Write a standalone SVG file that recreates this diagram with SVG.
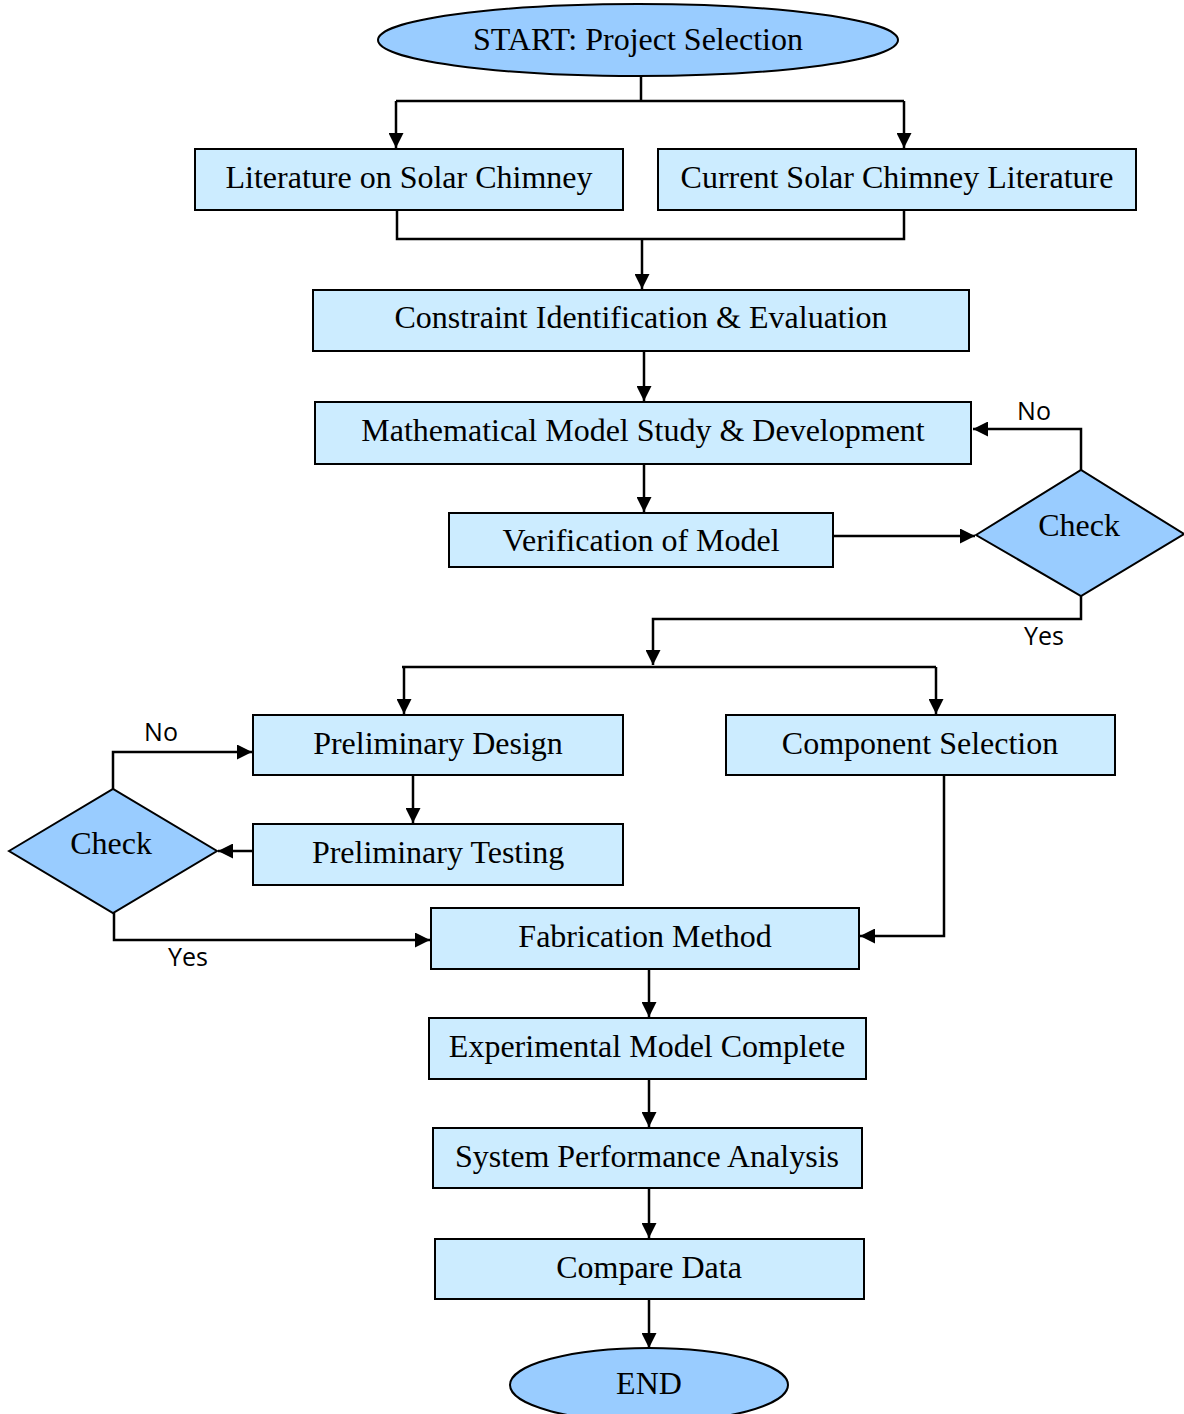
<svg xmlns="http://www.w3.org/2000/svg" width="1184" height="1414" viewBox="0 0 1184 1414">
<style>
.box{fill:#CCECFF;stroke:#000;stroke-width:2}
.term{fill:#99CCFF;stroke:#000;stroke-width:2}
.t{font-family:"Liberation Serif","Times New Roman",serif;font-size:32px;fill:#000;text-anchor:middle;dominant-baseline:central}
.lbl{font-family:"Open Sans","Liberation Sans",sans-serif;font-size:25px;fill:#000;text-anchor:middle}
.c{fill:none;stroke:#000;stroke-width:2.5}
.ca{fill:none;stroke:#000;stroke-width:2.5;marker-end:url(#ah)}
</style>
<defs>
<marker id="ah" viewBox="0 0 10 10" refX="10" refY="5" markerWidth="6" markerHeight="6" markerUnits="strokeWidth" orient="auto">
<path d="M0,0 L10,5 L0,10 z" fill="#000"/>
</marker>
</defs>
<rect width="1184" height="1414" fill="#fff"/>
<g id="start"><ellipse class="term" cx="638" cy="40" rx="260" ry="36"/><text class="t" x="638" y="39">START: Project Selection</text></g>
<g id="lit1"><rect class="box" x="195" y="149" width="428" height="61"/><text class="t" x="409" y="177">Literature on Solar Chimney</text></g>
<g id="lit2"><rect class="box" x="658" y="149" width="478" height="61"/><text class="t" x="897" y="177">Current Solar Chimney Literature</text></g>
<g id="constraint"><rect class="box" x="313" y="290" width="656" height="61"/><text class="t" x="641" y="317">Constraint Identification &amp; Evaluation</text></g>
<g id="math"><rect class="box" x="315" y="402" width="656" height="62"/><text class="t" x="643" y="430">Mathematical Model Study &amp; Development</text></g>
<g id="verify"><rect class="box" x="449" y="513" width="384" height="54"/><text class="t" x="641" y="540">Verification of Model</text></g>
<g id="check1"><polygon class="term" points="976,535 1081,470 1184,534 1081,596"/><text class="t" x="1079" y="525">Check</text></g>
<g id="prelimDesign"><rect class="box" x="253" y="715" width="370" height="60"/><text class="t" x="438" y="743">Preliminary Design</text></g>
<g id="component"><rect class="box" x="726" y="715" width="389" height="60"/><text class="t" x="920" y="743">Component Selection</text></g>
<g id="prelimTest"><rect class="box" x="253" y="824" width="370" height="61"/><text class="t" x="438" y="852">Preliminary Testing</text></g>
<g id="check2"><polygon class="term" points="9,851 113,789 217,851 113,913"/><text class="t" x="111" y="843">Check</text></g>
<g id="fabrication"><rect class="box" x="431" y="908" width="428" height="61"/><text class="t" x="645" y="936">Fabrication Method</text></g>
<g id="experimental"><rect class="box" x="429" y="1018" width="437" height="61"/><text class="t" x="647" y="1046">Experimental Model Complete</text></g>
<g id="performance"><rect class="box" x="433" y="1128" width="429" height="60"/><text class="t" x="647" y="1156">System Performance Analysis</text></g>
<g id="compare"><rect class="box" x="435" y="1239" width="429" height="60"/><text class="t" x="649" y="1267">Compare Data</text></g>
<g id="end"><ellipse class="term" cx="649" cy="1385" rx="139" ry="37"/><text class="t" x="649" y="1383">END</text></g>
<g id="connectors">
<polyline class="c" points="641,76 641,101"/>
<polyline class="ca" points="396,101 396,148"/>
<polyline class="c" points="396,101 904,101"/>
<polyline class="ca" points="904,101 904,148"/>
<polyline class="c" points="397,210 397,239 904,239 904,210"/>
<polyline class="ca" points="642,239 642,289"/>
<polyline class="ca" points="644,351 644,401"/>
<polyline class="ca" points="644,464 644,512"/>
<polyline class="ca" points="833,536 975,536"/>
<polyline class="ca" points="1081,470 1081,429 973,429"/>
<polyline class="ca" points="1081,596 1081,619 653,619 653,665"/>
<polyline class="c" points="402,667 936,667"/>
<polyline class="ca" points="404,667 404,714"/>
<polyline class="ca" points="936,667 936,714"/>
<polyline class="ca" points="413,776 413,823"/>
<polyline class="ca" points="253,851 218,851"/>
<polyline class="ca" points="113,789 113,752 252,752"/>
<polyline class="ca" points="114,913 114,940 430,940"/>
<polyline class="ca" points="944,776 944,936 860,936"/>
<polyline class="ca" points="649,969 649,1017"/>
<polyline class="ca" points="649,1079 649,1127"/>
<polyline class="ca" points="649,1188 649,1238"/>
<polyline class="ca" points="649,1299 649,1348"/>
<text class="lbl" x="1034" y="420">No</text>
<text class="lbl" x="1044" y="645">Yes</text>
<text class="lbl" x="161" y="741">No</text>
<text class="lbl" x="188" y="966">Yes</text>
</g>
</svg>
